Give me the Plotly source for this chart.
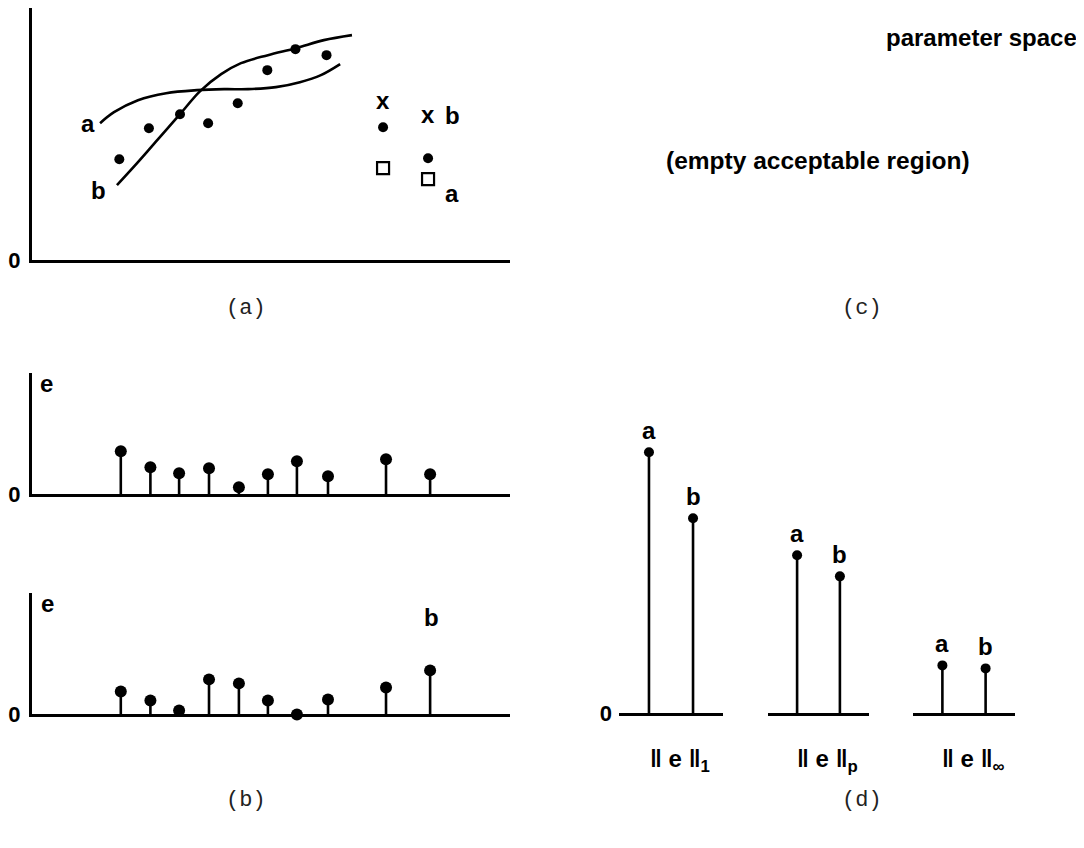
import plotly.graph_objects as go

# page has an 8px body margin, so the figure is drawn 8px in from the window edge
PAGE_W, PAGE_H = 1084, 848
OFF = 8
SY = 0.984  # vertical scale observed between page and photograph
W, H = PAGE_W - 2 * OFF, PAGE_H - 2 * OFF

# ---------------- data ----------------
# panel (a): observations and two fitted models
obs_x = [2.95, 3.95, 5.0, 5.95, 6.95, 7.95, 8.9, 9.95]
obs_y = [10.1, 13.2, 14.6, 13.7, 15.7, 19.0, 21.1, 20.5]
curve_a_x = [2.30, 2.77, 3.58, 4.53, 5.57, 6.49, 7.30, 8.24, 9.05, 9.76, 10.41]
curve_a_y = [13.7, 14.8, 16.0, 16.7, 17.0, 17.1, 17.1, 17.3, 17.8, 18.5, 19.6]
curve_b_x = [2.87, 3.58, 4.29, 5.0, 5.68, 6.39, 7.06, 7.97, 8.92, 9.86, 10.81]
curve_b_y = [7.5, 9.8, 12.2, 14.6, 16.9, 18.6, 19.7, 20.5, 21.2, 22.0, 22.5]
pred_x = [11.86, 13.38]
pred_obs_y = [13.3, 10.2]
pred_sq_y = [9.2, 8.1]
pred_label_y = [16.0, 14.6]

# panel (b): residuals of model a and model b
err_x = [3.0, 4.0, 4.97, 5.98, 6.99, 7.97, 8.95, 10.0, 11.96, 13.45]
err_a = [4.3, 2.7, 2.1, 2.6, 0.7, 2.0, 3.3, 1.8, 3.5, 2.0]
err_b = [2.3, 1.4, 0.4, 3.5, 3.1, 1.4, 0.0, 1.5, 2.7, 4.4]

# panel (d): norms of the residuals
models = ["a", "b"]
norm_labels = ["<b>‖ e ‖<sub>1</sub></b>", "<b>‖ e ‖<sub>p</sub></b>", "<b>‖ e ‖<sub>∞</sub></b>"]
norm_a = [26.1, 15.8, 4.8]
norm_b = [19.5, 13.7, 4.5]

# ---------------- helpers ----------------
def fx(p):
    return (p - OFF) / W

def fy(p):
    return 1 - (p / SY - OFF) / H

BOLD = dict(family="Liberation Sans, Arial, sans-serif", size=24, color="black", weight="bold")
MONO = dict(family="Liberation Mono, Courier New, monospace", size=22, color="#222")

fig = go.Figure()

# ---- panel (a) ----
fig.add_trace(go.Scatter(x=curve_a_x, y=curve_a_y, mode="lines", line=dict(color="black", width=2.6, shape="spline"),
                         xaxis="x", yaxis="y"))
fig.add_trace(go.Scatter(x=curve_b_x, y=curve_b_y, mode="lines", line=dict(color="black", width=2.6, shape="spline"),
                         xaxis="x", yaxis="y"))
fig.add_trace(go.Scatter(x=obs_x + pred_x, y=obs_y + pred_obs_y, mode="markers",
                         marker=dict(color="black", size=10), xaxis="x", yaxis="y", cliponaxis=False))
fig.add_trace(go.Scatter(x=pred_x, y=pred_sq_y, mode="markers",
                         marker=dict(symbol="square-open", color="black", size=12, line=dict(width=2.2)),
                         xaxis="x", yaxis="y", cliponaxis=False))

# ---- panel (b) ----
def stems(xs, ys, xa, ya, size=11):
    return go.Scatter(x=xs, y=ys, mode="markers", xaxis=xa, yaxis=ya, cliponaxis=False,
                      marker=dict(color="black", size=size),
                      error_y=dict(type="data", symmetric=False, array=[0] * len(ys), arrayminus=ys,
                                   width=0, thickness=2.6, color="black"))

fig.add_trace(stems(err_x, err_a, "x2", "y2", size=12))
fig.add_trace(stems(err_x, err_b, "x3", "y3", size=12))

# ---- panel (d) ----
for i in range(3):
    xa = "x%d" % (i + 4)
    ya = "y%d" % (i + 4)
    fig.add_trace(stems(models, [norm_a[i], norm_b[i]], xa, ya, size=10))

# ---------------- axes ----------------
def base_axis(**kw):
    d = dict(showgrid=False, zeroline=False, ticks="", showticklabels=False, fixedrange=True,
             linecolor="black", linewidth=3)
    d.update(kw)
    return d

ytick0 = dict(showticklabels=True, tickvals=[0], ticktext=["0"],
              tickfont=dict(family="Liberation Sans, Arial, sans-serif", size=22, color="black", weight="bold"))

x_ab_range = [0, 478 / 29.6]
layout_axes = dict(
    xaxis=base_axis(domain=[fx(32), fx(510)], range=x_ab_range, showline=True, anchor="y"),
    yaxis=base_axis(domain=[fy(260), fy(8)], range=[0, 25.2], showline=True, anchor="x",
                    ticklabelstandoff=4, **ytick0),
    xaxis2=base_axis(domain=[fx(32), fx(510)], range=x_ab_range, showline=True, anchor="y2"),
    yaxis2=base_axis(domain=[fy(494), fy(373)], range=[0, 12.1], showline=True, anchor="x2",
                     ticklabelstandoff=4, **ytick0),
    xaxis3=base_axis(domain=[fx(32), fx(510)], range=x_ab_range, showline=True, anchor="y3"),
    yaxis3=base_axis(domain=[fy(714), fy(593)], range=[0, 12.1], showline=True, anchor="x3",
                     ticklabelstandoff=4, **ytick0),
)
d_domains = [(619, 723), (768, 869), (913, 1015)]
for i, (l, r) in enumerate(d_domains):
    n = i + 4
    layout_axes["xaxis%d" % n] = base_axis(domain=[fx(l), fx(r)], type="category", categoryarray=models,
                                           range=[-0.68, 1.68], showline=True, anchor="y%d" % n)
    yk = dict(domain=[fy(713), fy(413)], range=[0, 30], showline=False, anchor="x%d" % n)
    if i == 0:
        yk.update(ticklabelstandoff=6, **ytick0)
    layout_axes["yaxis%d" % n] = base_axis(**yk)

# ---------------- annotations ----------------
ann = []

def txt(text, x, y, xref, yref, font=BOLD, **kw):
    d = dict(text=text, x=x, y=y, xref=xref, yref=yref, showarrow=False, font=font,
             xanchor="center", yanchor="middle")
    d.update(kw)
    ann.append(d)

# panel (a) labels
txt("a", 1.89, 13.7, "x", "y")
txt("b", 2.23, 7.0, "x", "y")
for px_, ly in zip(pred_x, pred_label_y):
    txt("x", px_, ly, "x", "y")
txt("b", 14.22, 14.5, "x", "y")
txt("a", 14.19, 6.7, "x", "y")

# panel (b) labels
txt("e", 0.5, 11.1, "x2", "y2")
txt("a", 13.4, 12.4, "x2", "y2")
txt("e", 0.54, 11.1, "x3", "y3")
txt("b", 13.48, 9.7, "x3", "y3")

# panel (d) labels
for i in range(3):
    xa = "x%d" % (i + 4)
    ya = "y%d" % (i + 4)
    txt("a", "a", norm_a[i], xa, ya, yshift=22)
    txt("b", "b", norm_b[i], xa, ya, yshift=22)
    txt(norm_labels[i], 0.5, fy(760), xa, "paper", xshift=9)

# panel (c) texts
txt("parameter space", fx(981), fy(37), "paper", "paper")
txt("(empty acceptable region)", fx(818), fy(160), "paper", "paper", font=dict(BOLD, size=24.5))

# panel captions
txt("(a)", fx(246), fy(308), "paper", "paper", font=MONO)
txt("(c)", fx(862), fy(308), "paper", "paper", font=MONO)
txt("(b)", fx(246), fy(800), "paper", "paper", font=MONO)
txt("(d)", fx(862), fy(800), "paper", "paper", font=MONO)

fig.update_layout(
    width=W, height=H,
    margin=dict(l=0, r=0, t=0, b=0),
    paper_bgcolor="white", plot_bgcolor="white",
    showlegend=False,
    annotations=ann,
    **layout_axes,
)

fig.write_html("out.html")
